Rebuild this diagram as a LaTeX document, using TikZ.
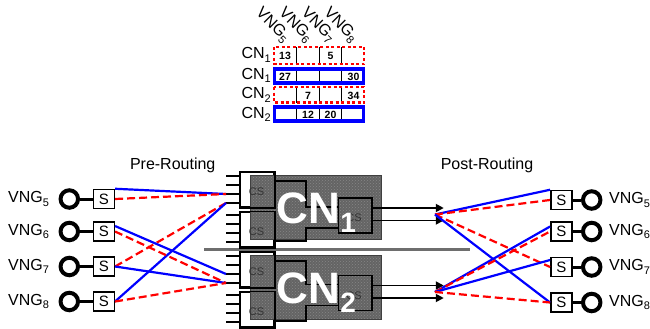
\documentclass[tikz,border=0pt]{standalone}
\usepackage{fontspec}
\setmainfont{Liberation Sans}
\usetikzlibrary{arrows.meta,patterns}
\newcommand\fsz[1]{\fontsize{#1}{#1}\selectfont}
\newcommand\myvng[1]{VNG\raisebox{-3.5pt}{\fsz{11}#1}}
\newcommand\mycn[1]{CN\raisebox{-3.5pt}{\fsz{11}#1}}
\definecolor{blockgray}{RGB}{100,100,100}
\definecolor{dotgray}{RGB}{135,135,135}
\definecolor{sepgray}{RGB}{110,110,110}
\newcommand\cnblk[4]{%
\begin{scope}[shift={(0,#2)}, name prefix=#1-]
  \node[csbox] (csa) at (257,189.5) {};
  \node[csbox] (csb) at (257,229.5) {};
  \fill[blockgray] (250,175) rectangle (381.5,239);
  \path[pattern=crosshatch dots, pattern color=dotgray] (250,175) rectangle (381.5,239);
  \draw[black!75, line width=0.5pt] (250,175) rectangle (381.5,239);
  \draw[csline] (csa.north west) rectangle (csa.south east);
  \draw[csline] (csb.north west) rectangle (csb.south east);
  \foreach \y [count=\i] in {176,185,194,203,214.5,223.5,232.5,241.5} {
    \coordinate (p\i) at (226,\y);
    \draw[pinline] (p\i) -- ++(14,0);
  }
  \node[cs3box] (csc) at (355.25,215.5+#3) {};
  \draw[wire] ([yshift=8.5pt]csa.east) -| ([xshift=-32pt,yshift=8.5pt]csc.west) -- ([yshift=8.5pt]csc.west);
  \draw[wire] ([yshift=-11.5pt]csb.east) -| ([xshift=-32pt,yshift=-12.5pt]csc.west) -- ([yshift=-12.5pt]csc.west);
  \draw[outarr] ([yshift=7.5pt]csc.east) -- ++(71,0) coordinate (t1);
  \draw[outarr] ([yshift=-5pt]csc.east) -- ++(71,0) coordinate (t2);
  \coordinate (cv) at (435,214.5+#3);
  \node[cslbl] (la) at (256.5,192) {CS};
  \node[cslbl] (lb) at (256.5,231.5) {CS};
  \node[cslbl] (lc) at (354,218+#3) {CS};
  \node[cnlbl, anchor=base west] (cntext) at (276.5,223.3) {CN\raisebox{-9.5pt}{\fsz{28}#4}};
\end{scope}}
\begin{document}
\begin{tikzpicture}[x=1pt,y=-1pt,
  lbl/.style={font=\fsz{16}, inner sep=0},
  numlbl/.style={font=\fsz{10.5}\bfseries, inner sep=0},
  bluel/.style={draw={rgb,255:red,0;green,0;blue,255}, line width=2.2pt},
  redl/.style={draw={rgb,255:red,255;green,0;blue,0}, line width=2.2pt, dash pattern=on 8pt off 4pt},
  sbox/.style={draw, line width=1.5pt, fill=white, minimum width=21pt, minimum height=19pt, inner sep=0, font=\fsz{15}},
  ring/.style={circle, draw, line width=4pt, minimum size=17.5pt, inner sep=0},
  stub/.style={line width=3pt},
  csbox/.style={draw=black, line width=1.5pt, fill=white, minimum width=34pt, minimum height=35pt, inner sep=0},
  csline/.style={draw=black, line width=1.5pt},
  cs3box/.style={draw=black, line width=1.5pt, minimum width=33.5pt, minimum height=35pt, inner sep=0},
  pinline/.style={line width=2pt},
  wire/.style={line width=1.6pt},
  outarr/.style={line width=1.8pt, -{Triangle[length=8pt,width=8pt]}},
  cslbl/.style={font=\fsz{11}, text=black!80, inner sep=0},
  cnlbl/.style={font=\fsz{44}\bfseries, text=white, inner sep=0},
  redrow/.style={draw={rgb,255:red,255;green,0;blue,0}, line width=2.2pt, dash pattern=on 3pt off 2.5pt},
  bluerow/.style={draw={rgb,255:red,0;green,0;blue,255}, line width=3.5pt},
  divline/.style={line width=0.8pt}
]
\useasboundingbox (0,0) rectangle (650,329);
\fill[white] (0,0) rectangle (650,329);

% ---------- table ----------
\foreach \x in {296.7,319,341.7} {
  \draw[divline] (\x,47) -- (\x,64);
  \draw[divline] (\x,69) -- (\x,83);
  \draw[divline] (\x,87) -- (\x,102.5);
  \draw[divline] (\x,107) -- (\x,121);
}
\draw[redrow] (274,47) rectangle (364,64);
\draw[bluerow] (274.5,69) rectangle (363.5,83);
\draw[redrow] (274,87) rectangle (364,102.5);
\draw[bluerow] (274.5,107) rectangle (363.5,121);

\node[lbl, anchor=base east] (rl1) at (271,59) {\mycn{1}};
\node[lbl, anchor=base east] (rl2) at (271,79) {\mycn{1}};
\node[lbl, anchor=base east] (rl3) at (271,98.5) {\mycn{2}};
\node[lbl, anchor=base east] (rl4) at (271,118) {\mycn{2}};

\node[lbl, rotate=-45, anchor=east] (h5) at (287,40) {\myvng{5}};
\node[lbl, rotate=-45, anchor=east] (h6) at (310,40) {\myvng{6}};
\node[lbl, rotate=-45, anchor=east] (h7) at (332.5,40) {\myvng{7}};
\node[lbl, rotate=-45, anchor=east] (h8) at (355,40) {\myvng{8}};

\node[numlbl] (n13) at (285,56) {13};
\node[numlbl] (n5) at (330.5,56) {5};
\node[numlbl] (n27) at (285,76.5) {27};
\node[numlbl] (n30) at (353.5,76.5) {30};
\node[numlbl] (n7) at (308,95.5) {7};
\node[numlbl] (n34) at (353.5,95.5) {34};
\node[numlbl] (n12) at (308,114.5) {12};
\node[numlbl] (n20) at (330.5,114.5) {20};

% ---------- headings ----------
\node[lbl] (pre) at (172.7,165) {Pre-Routing};
\node[lbl] (post) at (487,165) {Post-Routing};

% ---------- separator ----------
\draw[sepgray, line width=3pt] (204,249.3) -- (470,249.3);

% ---------- CN blocks ----------
\cnblk{cn1}{0}{0}{1}
\cnblk{cn2}{80}{-2.5}{2}

% ---------- left VNGs ----------
\foreach \n/\y in {5/199,6/231.5,7/266.5,8/301.5} {
  \node[lbl, anchor=west] (lv\n) at (8,\y) {\myvng{\n}};
  \node[ring] (lc\n) at (69.3,\y) {};
  \node[sbox] (ls\n) at (103.8,\y) {S};
  \draw[stub] (lc\n) -- (ls\n);
}
% ---------- right VNGs ----------
\foreach \n/\y in {5/200,6/231.5,7/267,8/302.5} {
  \node[sbox] (rs\n) at (561.3,\y) {S};
  \node[ring] (rc\n) at (591.7,\y) {};
  \node[lbl, anchor=west] (rv\n) at (609,\y) {\myvng{\n}};
  \draw[stub] (rs\n) -- (rc\n);
}

% ---------- pre-routing connectors ----------
\draw[bluel] (ls5.north east) -- (cn1-p3);
\draw[redl] (ls5.east) -- (cn1-p3);
\draw[redl] (ls7.east) -- (cn1-p4);
\draw[bluel] (ls8.east) -- (cn1-p4);
\draw[bluel] ([yshift=5.5pt]ls6.east) -- (cn2-p3);
\draw[redl] (ls6.east) -- (cn2-p4);
\draw[bluel] (ls7.east) -- (cn2-p4);
\draw[redl] (ls8.east) -- (cn2-p4);

% ---------- post-routing connectors ----------
\draw[bluel] (cn1-cv) -- (rs5.north west);
\draw[redl] (cn1-cv) -- (rs5.west);
\draw[redl] (cn1-cv) -- (rs7.west);
\draw[bluel] (cn1-cv) -- (rs8.west);
\draw[bluel] (cn2-cv) -- ([yshift=5pt]rs6.west);
\draw[redl] (cn2-cv) -- (rs6.west);
\draw[bluel] (cn2-cv) -- ([yshift=7pt]rs7.west);
\draw[redl] (cn2-cv) -- (rs8.west);
\end{tikzpicture}
\end{document}
